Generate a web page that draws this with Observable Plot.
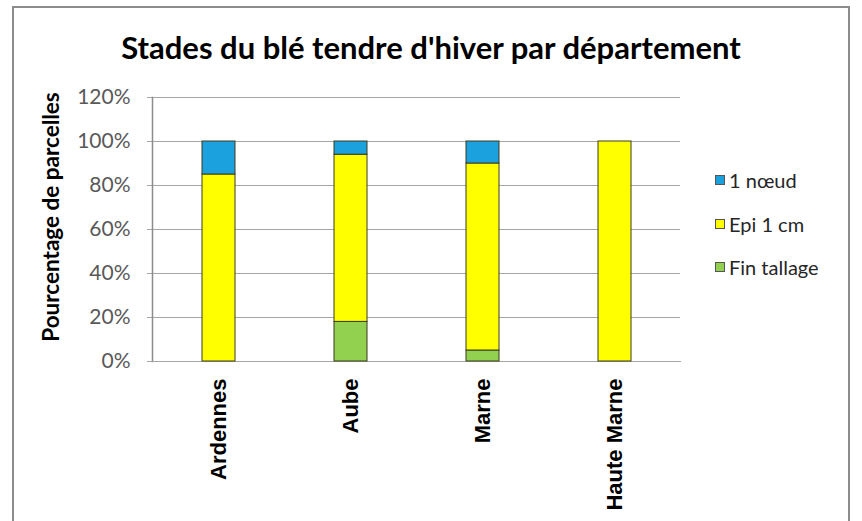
<!DOCTYPE html>
<html>
<head>
<meta charset="utf-8">
<script src="https://cdn.jsdelivr.net/npm/d3@7"></script>
<script src="https://cdn.jsdelivr.net/npm/@observablehq/plot@0.6"></script>
<style>
  html, body { margin: 0; padding: 0; background: #fff; overflow: hidden; }
  #wrap { position: relative; width: 862px; height: 521px; overflow: hidden; }
  #border { position: absolute; left: 12px; top: 6px; width: 838px; height: 530px;
            border: 2px solid #8c8c8c; border-bottom: none; box-sizing: border-box; }
  #title { position: absolute; left: 0; width: 862px; top: 27px; text-align: center;
           font-family: Lato, sans-serif; font-weight: bold; font-size: 31px; color: #000; line-height: 40px; }
  #ylabel { position: absolute; left: 50px; top: 217px; transform: translate(-50%, -50%) rotate(-90deg);
            white-space: nowrap; font-family: Lato, sans-serif; font-weight: bold; font-size: 22.5px; color: #000; }
  #chart { position: absolute; left: 0; top: 0; }
  .leg { position: absolute; left: 715px; font-family: Lato, sans-serif; font-size: 20px; color: #262626;
         white-space: nowrap; display: flex; align-items: center; }
  .leg span.sw { display: inline-block; width: 8px; height: 8px; border: 1px solid #555; margin-right: 4px; }
</style>
</head>
<body>
<div id="wrap">
  <div id="border"></div>
  <div id="chart"></div>
  <div id="title">Stades du blé tendre d'hiver par département</div>
  <div id="ylabel">Pourcentage de parcelles</div>
</div>
<script>
const categories = ["Ardennes", "Aube", "Marne", "Haute Marne"];
const series = ["Fin tallage", "Epi 1 cm", "1 nœud"];
const finTallage = [0, 18, 5, 0];
const epi1cm = [85, 76, 85, 100];
const noeud1 = [15, 6, 10, 0];
const colors = ["#92D050", "#FFFF00", "#1BA1DE"];
const yTicks = [0, 20, 40, 60, 80, 100, 120];
const legendOrder = ["1 nœud", "Epi 1 cm", "Fin tallage"];

const seriesValues = [finTallage, epi1cm, noeud1];
const data = [];
series.forEach((s, si) => {
  categories.forEach((c, ci) => {
    data.push({dept: c, stade: s, value: seriesValues[si][ci]});
  });
});

const chart = Plot.plot({
  width: 862,
  height: 521,
  marginLeft: 152,
  marginRight: 182,
  marginTop: 97,
  marginBottom: 160,
  style: {fontFamily: "Lato, sans-serif", background: "transparent", overflow: "visible"},
  x: {domain: categories, paddingInner: 0.75, paddingOuter: 0.375, label: null},
  y: {domain: [0, 120], label: null},
  color: {domain: series, range: colors},
  marks: [
    Plot.gridY(yTicks, {stroke: "#a6a6a6", strokeOpacity: 1, strokeWidth: 1}),
    Plot.axisY(yTicks, {tickSize: 5, tickPadding: 17, stroke: "#a6a6a6", fill: "#595959",
      fontSize: 21, tickFormat: d => d + "%", label: null}),
    Plot.frame({anchor: "left", stroke: "#8c8c8c", strokeWidth: 1.5, strokeOpacity: 1}),
    Plot.frame({anchor: "bottom", stroke: "#a6a6a6", strokeWidth: 1, strokeOpacity: 1}),
    Plot.barY(data, {x: "dept", y: "value", fill: "stade", stroke: "#3b3b20", strokeWidth: 1, order: null}),
    Plot.axisX({tickSize: 0, tickPadding: 17, tickRotate: -90, fontSize: 22, fontWeight: "bold",
      fontFamily: "Liberation Sans, Arial, sans-serif", fill: "#000", label: null})
  ]
});
document.getElementById("chart").appendChild(chart);

const legTops = [180, 224, 267];
const wrap = document.getElementById("wrap");
legendOrder.forEach((name, i) => {
  const d = document.createElement("div");
  d.className = "leg";
  d.style.top = (legTops[i] - 12) + "px";
  d.style.height = "24px";
  const sw = document.createElement("span");
  sw.className = "sw";
  sw.style.background = colors[series.indexOf(name)];
  d.appendChild(sw);
  d.appendChild(document.createTextNode(name));
  wrap.appendChild(d);
});
</script>
</body>
</html>
